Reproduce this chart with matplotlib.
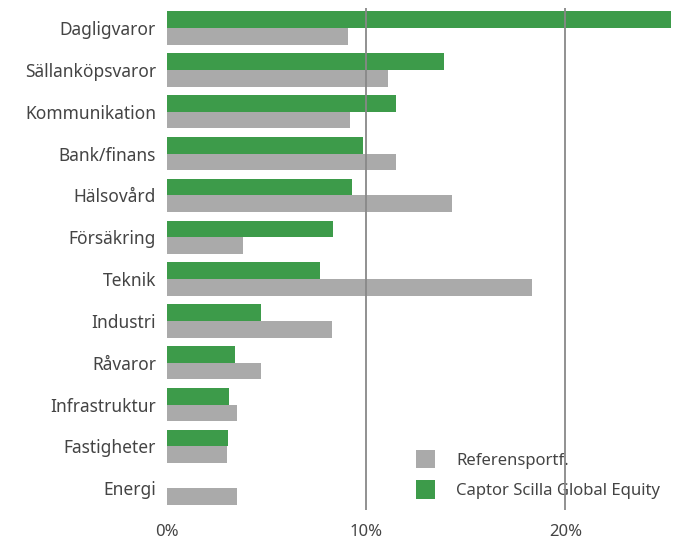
import matplotlib
matplotlib.use("Agg")
import matplotlib.pyplot as plt
import numpy as np

categories = ["Dagligvaror", "Sällanköpsvaror", "Kommunikation", "Bank/finans", "Hälsovård",
              "Försäkring", "Teknik", "Industri", "Råvaror", "Infrastruktur", "Fastigheter", "Energi"]
captor = [25.3, 13.9, 11.5, 9.85, 9.3, 8.35, 7.7, 4.7, 3.4, 3.1, 3.05, 0.0]
referens = [9.1, 11.1, 9.2, 11.5, 14.3, 3.8, 18.3, 8.3, 4.7, 3.5, 3.0, 3.5]
xticks = [0, 10, 20]
xticklabels = ["0%", "10%", "20%"]

plt.rcParams['font.family'] = ['Noto Sans', 'DejaVu Sans']
GREEN = "#3d9b4a"
GREY = "#aaaaaa"
TXT = "#444444"

fig = plt.figure(figsize=(6.94, 5.39), dpi=100)
ax = fig.add_axes([167/694, 1-510/539, (671-167)/694, (510-8)/539])

y = np.arange(len(categories))
h = 0.4
ax.barh(y - h/2, captor, height=h, color=GREEN, label="Captor Scilla Global Equity", zorder=2)
ax.barh(y + h/2, referens, height=h, color=GREY, label="Referensportf.", zorder=2)

ax.set_ylim(len(categories) - 0.5 + 0.02, -0.5 + 0.02)
ax.set_xlim(0, 25.3)
ax.set_yticks(y)
ax.set_yticklabels(categories, fontsize=12.5, color=TXT)
ax.set_xticks(xticks)
ax.set_xticklabels(xticklabels, fontsize=12, color=TXT)
ax.tick_params(axis='both', length=0, pad=8)
ax.tick_params(axis='x', pad=10)
for s in ax.spines.values():
    s.set_visible(False)
for xv in xticks[1:]:
    ax.axvline(xv, color="#888888", lw=1.3, zorder=3)

handles, labels = ax.get_legend_handles_labels()
leg = ax.legend(handles[::-1], labels[::-1], loc="lower left", bbox_to_anchor=(0.465, -0.008),
                frameon=False, fontsize=12, labelcolor=TXT, handlelength=1.1, handleheight=1.3,
                handletextpad=1.3, labelspacing=0.7)
leg.set_zorder(1)

fig.savefig("out.png", dpi=100)
